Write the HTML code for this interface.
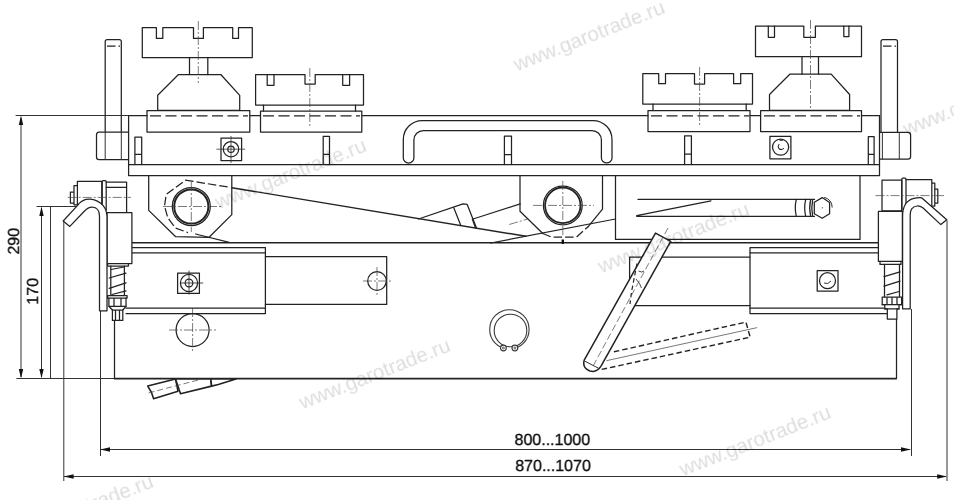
<!DOCTYPE html>
<html>
<head>
<meta charset="utf-8">
<title>Drawing</title>
<style>
html,body{margin:0;padding:0;background:#fff;}
body{width:954px;height:500px;overflow:hidden;font-family:"Liberation Sans",sans-serif;}
svg{display:block;filter:grayscale(1);}
text{text-rendering:geometricPrecision;}
.m{stroke:#222;stroke-width:1.25;fill:none;stroke-linecap:round;stroke-linejoin:round;}
.w{stroke:#222;stroke-width:1.25;fill:#fff;stroke-linecap:round;stroke-linejoin:round;}
.t{stroke:#333;stroke-width:1;fill:none;}
.d{stroke:#222;stroke-width:1.25;fill:none;stroke-dasharray:8.5 3;}
.c{stroke:#444;stroke-width:0.7;fill:none;stroke-dasharray:9 2 2 2;}
.k{stroke:#111;stroke-width:2.4;fill:none;}
.wm{font-family:"Liberation Sans",sans-serif;font-size:20.5px;fill:#000;}
.tx{font-family:"Liberation Sans",sans-serif;font-size:16px;fill:#111;stroke:#111;stroke-width:0.3;}
</style>
</head>
<body>
<svg width="954" height="500" viewBox="0 0 954 500">
<rect x="0" y="0" width="954" height="500" fill="#fff"/>



<!-- DIMENSIONS -->
<g id="dims">
<line class="t" x1="15.6" y1="115.5" x2="128.6" y2="115.5"/>
<line class="t" x1="21" y1="118" x2="21" y2="377"/>
<path d="M21 115.5 L18.8 125 L23.2 125 Z" fill="#111"/>
<path d="M21 378.3 L18.8 369 L23.2 369 Z" fill="#111"/>
<line class="t" x1="36.6" y1="206.5" x2="79" y2="206.5"/>
<line class="t" x1="41.5" y1="208" x2="41.5" y2="377"/>
<path d="M41.5 206.5 L39.3 216 L43.7 216 Z" fill="#111"/>
<path d="M41.5 378.3 L39.3 369 L43.7 369 Z" fill="#111"/>
<line class="t" x1="50.5" y1="206.5" x2="50.5" y2="378.5"/>
<line class="t" x1="63.8" y1="221" x2="63.8" y2="481"/>
<line class="t" x1="100.5" y1="311" x2="100.5" y2="456"/>
<line class="t" x1="16.4" y1="378.5" x2="115" y2="378.5"/>
<line class="t" x1="101" y1="449.5" x2="910" y2="449.5"/>
<path d="M100.2 449.5 L110 447.3 L110 451.7 Z" fill="#111"/>
<path d="M911 449.5 L901 447.3 L901 451.7 Z" fill="#111"/>
<line class="t" x1="64" y1="476.5" x2="946" y2="476.5"/>
<path d="M63.8 476.5 L73.6 474.3 L73.6 478.7 Z" fill="#111"/>
<path d="M947 476.5 L937.2 474.3 L937.2 478.7 Z" fill="#111"/>
<line class="t" x1="911.5" y1="309" x2="911.5" y2="456"/>
<line class="t" x1="947" y1="220.5" x2="947" y2="481"/>
<text class="tx" x="552.3" y="444.6" text-anchor="middle">800...1000</text>
<text class="tx" x="553" y="471.4" text-anchor="middle">870...1070</text>
<text class="tx" transform="translate(18.7,241.2) rotate(-90)" text-anchor="middle">290</text>
<text class="tx" transform="translate(38.4,291.3) rotate(-90)" text-anchor="middle">170</text>
</g>

<!-- BASE -->
<g id="base">
<line class="m" x1="132" y1="242.8" x2="878.5" y2="242.8" style="stroke-width:1.4"/>
<line class="m" x1="114.3" y1="378.6" x2="896.3" y2="378.6" style="stroke-width:1.6"/>
<line class="m" x1="114.5" y1="320" x2="114.5" y2="378.6"/>
<line class="m" x1="896.5" y1="319" x2="896.5" y2="378.6"/>
<circle class="m" cx="192.6" cy="330" r="16.5"/>
<line class="c" x1="169" y1="330" x2="216" y2="330"/>
<line class="c" x1="192.6" y1="308" x2="192.6" y2="352"/>
<g style="stroke:#3a3a3a">
<circle class="m" cx="509.4" cy="329.4" r="19.7" style="stroke:#3a3a3a;stroke-width:1.1"/>
<rect x="505.6" y="347.6" width="7.2" height="4" fill="#fff" stroke="none"/>
<circle class="m" cx="510.5" cy="330.5" r="16.3" style="stroke:#3a3a3a;stroke-width:1.1"/>
<circle class="w" cx="503.4" cy="348" r="2.9" style="stroke:#3a3a3a;stroke-width:1.1"/>
<circle class="w" cx="514.9" cy="348" r="2.9" style="stroke:#3a3a3a;stroke-width:1.1"/>
<circle cx="503.4" cy="348" r="1" fill="none" stroke="#3a3a3a" stroke-width="0.8"/>
<circle cx="514.9" cy="348" r="1" fill="none" stroke="#3a3a3a" stroke-width="0.8"/>
</g>
</g>

<!-- TOP BLOCKS -->
<g id="blocks">
<path class="m" d="M142.3 27.6 H156.4 V38.4 H162.8 V27.6 H193.5 V38.4 H203.4 V27.6 H232.7 V38.4 H238.5 V27.6 H252.3 V57.5 H142.3 Z"/>
<path class="m" d="M189.5 57.5 V74.5 M207.8 57.5 V74.5"/>
<path class="m" d="M178.5 74.5 H220.8 L239.7 95.3 V110.4 H157.7 V95.3 Z"/>
<path class="m" d="M255.6 74.6 H267.2 V85.3 H274 V74.6 H305 V84 H315.2 V74.6 H342.7 V85.3 H349.6 V74.6 H363.5 V105 H255.6 Z"/>
<path class="m" d="M263.5 105 V111 M355.5 105 V111 M267.2 74.6 H274 M342.7 74.6 H349.6"/>
<path class="m" d="M642.8 73.5 H658.7 V83.7 H665.5 V73.5 H694.5 V84 H704.6 V73.5 H733.6 V83.7 H740.7 V73.5 H752.5 V104.1 H642.8 Z"/>
<path class="m" d="M653 104.1 V110.5 M746.2 104.1 V110.5"/>
<path class="m" d="M755.5 26 H768.3 V37.3 H774.5 V26 H803.8 V37.3 H815.4 V26 H843.8 V36.6 H848.9 V26 H861.5 V56.7 H755.5 Z"/>
<path class="m" d="M802 56.7 V74.2 M818.5 56.7 V74.2 M768.3 26 H774.5 M843.8 26 H848.9"/>
<path class="m" d="M789.8 74.2 H831.2 L849.6 94.5 V110.4 H769.5 V94.5 Z"/>
<!-- plates -->
<rect class="m" x="147" y="110.5" width="102.8" height="21.5"/>
<rect class="m" x="260.5" y="111" width="101.3" height="21"/>
<rect class="m" x="648" y="110.5" width="102" height="21"/>
<rect class="m" x="760.6" y="110.5" width="100.9" height="21"/>
<path class="d" d="M150 115.8 H248 M263 115.8 H360 M651 115.8 H749 M764 115.8 H860" style="stroke-dasharray:11 4.5"/>
<!-- centerlines -->
<line class="c" x1="198.3" y1="21" x2="198.3" y2="83"/>
<line class="c" x1="309.8" y1="68" x2="309.8" y2="127"/>
<line class="c" x1="699.6" y1="67" x2="699.6" y2="127"/>
<line class="c" x1="810.5" y1="20" x2="810.5" y2="108"/>
</g>

<!-- POSTS -->
<g id="posts">
<path class="m" d="M105.2 132 V41.5 Q105.2 39.6 107.2 39.6 H119.3 Q121.3 39.6 121.3 41.5 V132"/>
<path class="d" d="M107 46 H120"/>
<path class="m" d="M128.3 132 H99 Q96.5 132 96.5 135 V157 Q96.5 159.7 99 159.7 H128.3"/>
<path class="t" d="M105.2 132 V159.7 M121.3 132 V159.7"/>
<path class="m" d="M881 132 V41.5 Q881 39.6 883 39.6 H895.5 Q897.5 39.6 897.5 41.5 V132"/>
<path class="d" d="M883 46 H896"/>
<path class="m" d="M879.5 132.3 H908 Q910.6 132.3 910.6 135 V156.5 Q910.6 159.2 908 159.2 H879.5"/>
<path class="t" d="M882.4 132.3 V159.2 M899.3 132.3 V159.2"/>
</g>

<!-- FRAME -->
<g id="frame">
<path class="m" d="M128.6 115.7 H147 M249.8 115.7 H260.5 M361.8 115.7 H648 M750 115.7 H760.6 M861.5 115.7 H879.5"/>
<path class="m" d="M128.6 115.7 V175.5 H879.5 V115.7"/>
<line class="m" x1="128.6" y1="164.5" x2="879.5" y2="164.5"/>
<!-- small posts -->
<path class="m" d="M134.9 164.5 V137 H141.7 V164.5 M134.9 154.3 H141.7"/>
<path class="m" d="M323.2 164.5 V136.3 H329.5 V164.5 M323.2 154.3 H329.5"/>
<path class="m" d="M504.4 164.5 V136.1 H511.5 V164.5 M504.4 154.5 H511.5"/>
<path class="m" d="M684.6 164.5 V135.8 H691.4 V164.5 M684.6 154.2 H691.4"/>
<path class="m" d="M868.3 164.5 V136.6 H874.1 V164.5 M868.3 154.3 H874.1"/>
<!-- bolts -->
<rect class="m" x="221" y="138" width="20.6" height="22.5"/>
<circle class="m" cx="231" cy="149.2" r="7.7"/>
<circle class="m" cx="231" cy="149.2" r="3.2"/>
<path class="t" d="M216.4 149.2 H245.2 M231 136 V163" style="stroke-width:0.8"/>
<rect class="m" x="769.9" y="136.3" width="21" height="22.5"/>
<circle class="m" cx="780.6" cy="147.1" r="8.1"/>
<path class="m" d="M779 144.5 A3 3 0 1 0 783.5 148.5" style="stroke-width:1.1"/>
<path class="t" d="M779.5 140.2 H783" style="stroke-width:1.2"/>
<!-- handle -->
<path class="m" d="M403.3 158 V139.5 A19 19 0 0 1 422.3 120.5 H593 A19 19 0 0 1 612 139.5 V158 A5.3 5 0 0 1 601.4 158 V140 A9.5 9.5 0 0 0 591.9 130.5 H423.4 A9.5 9.5 0 0 0 413.9 140 V158 A5.3 5 0 0 1 403.3 158 Z"/>
</g>

<!-- LUG 1 + SCISSOR -->
<g id="mid">
<path class="m" d="M148.7 175.6 V210.4 L175.7 236.7 L209.1 237.3 L231.8 214.6 V175.6"/>
<circle class="m" cx="191.3" cy="206.5" r="19"/><circle class="m" cx="191.3" cy="206.5" r="17.1" style="stroke-width:2"/>
<path class="d" d="M227.6 186.9 L185.5 180.2 L166.2 194.5 L164.5 206.2 L167.9 218 L175.5 228 L188 232.6"/>
<path class="c" d="M163 206.5 H222 M191.3 182 V232"/>
<line class="m" x1="231.8" y1="187.7" x2="526" y2="236.3" style="stroke-width:1.45"/>
<line class="m" x1="195.6" y1="234" x2="229.2" y2="242.4"/>
<line class="m" x1="490.8" y1="243" x2="615.5" y2="219"/>
<!-- cylinder -->
<path class="m" d="M418.5 219 L463 203.9 L467.2 204.4 L476.5 227.9"/>
<path class="m" d="M453.8 207.7 L460.8 225.4"/>
<path class="m" d="M473.1 219 L520.2 203.9"/>
<path class="m" d="M472.3 219 L475.5 228"/>
<line class="c" x1="509.2" y1="224.5" x2="527.7" y2="219"/>
<!-- lug 2 -->
<path class="m" d="M520 175.6 V211.3 L542.8 233.5"/>
<path class="m" d="M602.5 175.6 V209.2 L588 226.8"/>
<path class="d" d="M542.8 233.5 L551.4 237 H576.6 L588 226.8"/>
<circle class="m" cx="562.8" cy="205.4" r="19.4"/><circle class="m" cx="562.8" cy="205.4" r="17.7" style="stroke-width:1.8"/>
<path class="c" d="M533 205.4 H594 M562.8 181 V236"/>
<line class="k" x1="562.8" y1="239.5" x2="562.8" y2="244"/>
</g>

<!-- TOOL TRAY -->
<g id="tray">
<path class="m" d="M615.5 175.6 V239.4 H860 V175.6"/>
<path class="m" d="M638 199.4 H814.5 M636.7 216.3 H814.5 M636.7 215.7 L711 200.8"/>
<path class="m" d="M796.3 199.4 Q794.3 207.8 796.3 216.3 M805.7 199.4 Q803.7 207.8 805.7 216.3 M810.6 200 Q808.8 207.8 810.6 215.8 M812.6 200.5 Q811 207.8 812.6 215.5"/>
<path class="w" d="M822.2 197.6 L829.6 202.6 V213.8 L822.2 218.3 L814.3 213.8 V202.3 Z"/>
<path class="t" d="M824.2 197.3 Q832 199.5 832.2 207.5"/>
<circle cx="822.3" cy="207.8" r="0.6" fill="#222"/>
</g>

<!-- CHANNELS / ARMS -->
<g id="arms">
<path class="m" d="M132 247.5 H265.4 V313.5 H126"/>
<path class="m" d="M132 252.8 H265.4 M126 308.2 H265.4"/>
<path class="m" d="M265.4 256.6 H386.7 V304.4 H265.4"/>
<circle class="m" cx="377" cy="281" r="9.3"/>
<path class="c" d="M363 281 H391 M377 267 V295"/>
<rect class="m" x="177.6" y="273" width="21.8" height="20.4"/>
<circle class="m" cx="189" cy="283" r="8.6"/>
<circle class="m" cx="189" cy="283" r="3.8"/>
<path class="t" d="M180 283 H203.2 M189 270.6 V294.6" style="stroke-width:0.9"/>
<path class="m" d="M878.5 247.5 H750 V313.5 H887.3"/>
<path class="m" d="M878.5 252.8 H750 M884 308.2 H750"/>
<path class="m" d="M750 257 H629.6 V305.7 H750"/>
<rect class="m" x="817.2" y="270.5" width="20.8" height="20.5"/>
<circle class="m" cx="827.5" cy="280.7" r="8"/>
<path class="t" d="M824 283 Q828 285 831 281"/>
</g>

<!-- LEVER -->
<g id="lever">
<path class="d" d="M613.9 351.8 L745.9 322.1 L750.2 337.2 L601.3 369.5" style="stroke-dasharray:5.5 3;stroke-width:1.4"/>
<line class="t" x1="606.4" y1="360.7" x2="757.2" y2="327.6" style="stroke:#555;stroke-width:0.8"/>
<path class="w" style="stroke-width:1.5" d="M655.5 233.1 L670.7 241.4 L601.3 365.7 Q597 373 590 371 Q582 368 584.2 360.2 Z"/>
<line class="c" x1="668" y1="228" x2="592" y2="368" style="stroke-dasharray:7 3"/>
<path class="t" d="M584.5 361 L599 368.5"/>
<path class="d" d="M637 263.5 L631.5 292 L630 304" style="stroke-dasharray:4.5 3;stroke-width:1.2"/>
<path class="t" d="M638.5 271 Q642 273 644 271 M636 279 Q640 283 641.5 288" style="stroke-width:0.9"/>
</g>

<!-- PEDAL -->
<g id="pedal" style="stroke-width:1.6">
<path class="w" style="stroke-width:1.6" d="M147.7 386.1 L175.5 378.9 L178 391.2 L153.6 398.7 L151.5 392.5 Z"/>
<path class="w" style="stroke-width:1.6" d="M175.5 378.9 H210.8 L211.6 386.1 L180.5 393.7 Z"/>
<path class="w" style="stroke-width:1.6" d="M210.8 378.9 H236 L218.3 384.5 L211.6 386.1 Z"/>
<line class="c" x1="148.6" y1="392.9" x2="200.7" y2="379.4" style="stroke-dasharray:6 3"/>
</g>

<!-- LEFT CLAMP -->
<g id="lclamp">
<rect class="m" x="77.4" y="181.4" width="24.4" height="23.4"/>
<path class="m" d="M77.4 185.6 H74 V204.8 H77.4 M74 192.2 H70.4 V203 H74"/>
<path class="m" d="M102.2 210 V181.6 Q102.2 180.6 103.2 180.6 H105.2 Q106.2 180.6 106.2 181.6 V210"/>
<path class="m" d="M106.2 182 H126.6 V212.6 M106.2 187.4 H126.6"/>
<line class="c" x1="67.7" y1="197.4" x2="131" y2="197.4"/>
<path class="w" d="M107 212.6 H131.9 V263.6 H107 Z"/>
<path class="m" d="M107.6 263.6 V266 H128.4 V263.6"/>
<path class="m" d="M110.8 266 V295.6 M124.4 266 V295.6"/>
<path class="m" d="M109.2 278 L126 273.2 M109.2 288.4 L126 282.8 M112 294.5 L126 290.8 M111 269.5 L124 267"/>
<path class="w" d="M107.6 295.6 H127.1 V298 H126 V306.3 L122.8 310 V320.4 H112.4 V310 L108.9 306.3 V298 H107.6 Z"/>
<path class="m" d="M108.9 298 H126 M108.9 306.3 H126 M112.4 310 H122.8 M114 298 V306 M121 298 V306 M115.5 311 V320 M119.5 311 V320"/>
<path class="w" d="M107 310.8 V216 Q106.5 207.5 100.4 203 Q93.5 197.8 86 199.4 Q80.5 201 77.6 205.4 L63.2 221 L69.8 226.4 L84.8 210.8 Q88 207 92 207 Q99.5 207.5 99.5 216 V310.8 Z"/>
</g>

<!-- RIGHT CLAMP -->
<g id="rclamp">
<rect class="m" x="882" y="180.2" width="19.8" height="30.6"/>
<path class="m" d="M901.8 210 V179.2 Q901.8 178.2 902.8 178.2 H905 Q906 178.2 906 179.2 V210"/>
<path class="m" d="M906 179.6 H931.8 V206 M931.8 183.2 H934.8 V206 H931.8 M934.8 189.2 H937.8 V203 H934.8"/>
<line class="c" x1="875.5" y1="195.6" x2="944" y2="195.6"/>
<path class="w" d="M878.4 211.4 H902.4 V261.3 H878.4 Z"/>
<path class="m" d="M880 261.3 V264.4 H901 V261.3"/>
<path class="m" d="M884.5 264.4 V297 M899.5 264.4 V297"/>
<path class="m" d="M884 276.6 L900 271.9 M884 286.2 L900 281.2 M887 294.8 L899 291.5"/>
<path class="w" d="M882.2 297.1 H901.6 V304.7 H899 V308.9 H896.9 V319 H887.3 V308.9 H884.8 V304.7 H882.2 Z"/>
<path class="m" d="M882.2 304.7 H901.6 M884.8 308.9 H899 M887 297.5 V304.5 M892 297.5 V304.5 M897 297.5 V304.5"/>
<path class="w" d="M902.6 308.9 V216 Q902.6 209 905.4 204.2 Q908.5 199.5 914 198.3 Q918 197.5 921.6 197.8 L946.8 219.8 L940.8 224.6 L922.8 207.8 Q920 205.8 917 206 Q910.2 207 910.2 214.5 V308.9 Z"/>
</g>
<!-- WATERMARKS -->
<g id="wm" style="opacity:0.14">
<text class="wm" transform="translate(591.5,42) rotate(-21.5)" text-anchor="middle">www.garotrade.ru</text>
<text class="wm" transform="translate(293,180) rotate(-21.5)" text-anchor="middle">www.garotrade.ru</text>
<text class="wm" transform="translate(676,244) rotate(-21.5)" text-anchor="middle">www.garotrade.ru</text>
<text class="wm" transform="translate(377,380) rotate(-21.5)" text-anchor="middle">www.garotrade.ru</text>
<text class="wm" transform="translate(757.5,447) rotate(-21.5)" text-anchor="middle">www.garotrade.ru</text>
<text class="wm" transform="translate(981,106.5) rotate(-21.5)" text-anchor="middle">www.garotrade.ru</text>
<text class="wm" transform="translate(80,516) rotate(-21.5)" text-anchor="middle">www.garotrade.ru</text>
</g>
</svg>
</body>
</html>
